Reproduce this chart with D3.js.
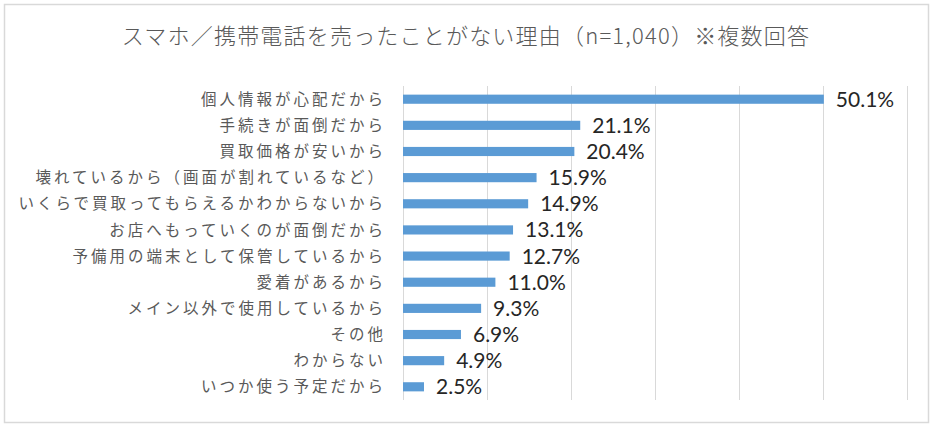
<!DOCTYPE html>
<html><head><meta charset="utf-8">
<script src="https://cdn.jsdelivr.net/npm/d3@7"></script>
<style>body{margin:0;background:#fff;} text{font-family:"Noto Sans CJK JP","Noto Sans",sans-serif;}</style>
</head><body><svg id="c" width="934" height="428"></svg>
<script>
const title = "スマホ／携帯電話を売ったことがない理由（n=1,040）※複数回答";
const categories = ["個人情報が心配だから","手続きが面倒だから","買取価格が安いから","壊れているから（画面が割れているなど）","いくらで買取ってもらえるかわからないから","お店へもっていくのが面倒だから","予備用の端末として保管しているから","愛着があるから","メイン以外で使用しているから","その他","わからない","いつか使う予定だから"];
const values = [50.1,21.1,20.4,15.9,14.9,13.1,12.7,11.0,9.3,6.9,4.9,2.5];
const gridTicks = [0,10,20,30,40,50,60];

const svg = d3.select("#c");
svg.append("rect").attr("x",4.5).attr("y",4.5).attr("width",924).attr("height",418)
  .attr("fill","#fff").attr("stroke","#d9d9d9").attr("stroke-width",1.5);

svg.append("text").attr("x",466).attr("y",44).attr("text-anchor","middle")
  .attr("font-size",22).attr("letter-spacing",1.2).attr("font-weight",300)
  .attr("fill","#595959").text(title);

const x = d3.scaleLinear().domain([0,60]).range([403,907]);
const y = d3.scaleBand().domain(categories).range([86,400]).paddingInner(0.65).paddingOuter(0.33);

svg.append("g").selectAll("line").data(gridTicks).join("line")
  .attr("x1",d=>x(d)+0.5).attr("x2",d=>x(d)+0.5).attr("y1",86).attr("y2",400)
  .attr("stroke","#d9d9d9").attr("stroke-width",1);

svg.append("g").selectAll("rect").data(values).join("rect")
  .attr("x",x(0)).attr("y",(d,i)=>y(categories[i]))
  .attr("width",d=>x(d)-x(0)).attr("height",y.bandwidth())
  .attr("fill","#5b9bd5");

svg.append("g").selectAll("text").data(categories).join("text")
  .attr("x",386).attr("y",d=>y(d)+y.bandwidth()/2).attr("dy","0.36em")
  .attr("text-anchor","end").attr("font-size",15.5).attr("letter-spacing",3)
  .attr("fill","#595959").text(d=>d);

svg.append("g").selectAll("text").data(values).join("text")
  .attr("x",d=>x(d)+12).attr("y",(d,i)=>y(categories[i])+y.bandwidth()/2).attr("dy","0.36em")
  .style("font-family","Lato, 'Noto Sans', sans-serif")
  .attr("font-size",21).attr("fill","#262626").text(d=>d.toFixed(1)+"%");
</script></body></html>
